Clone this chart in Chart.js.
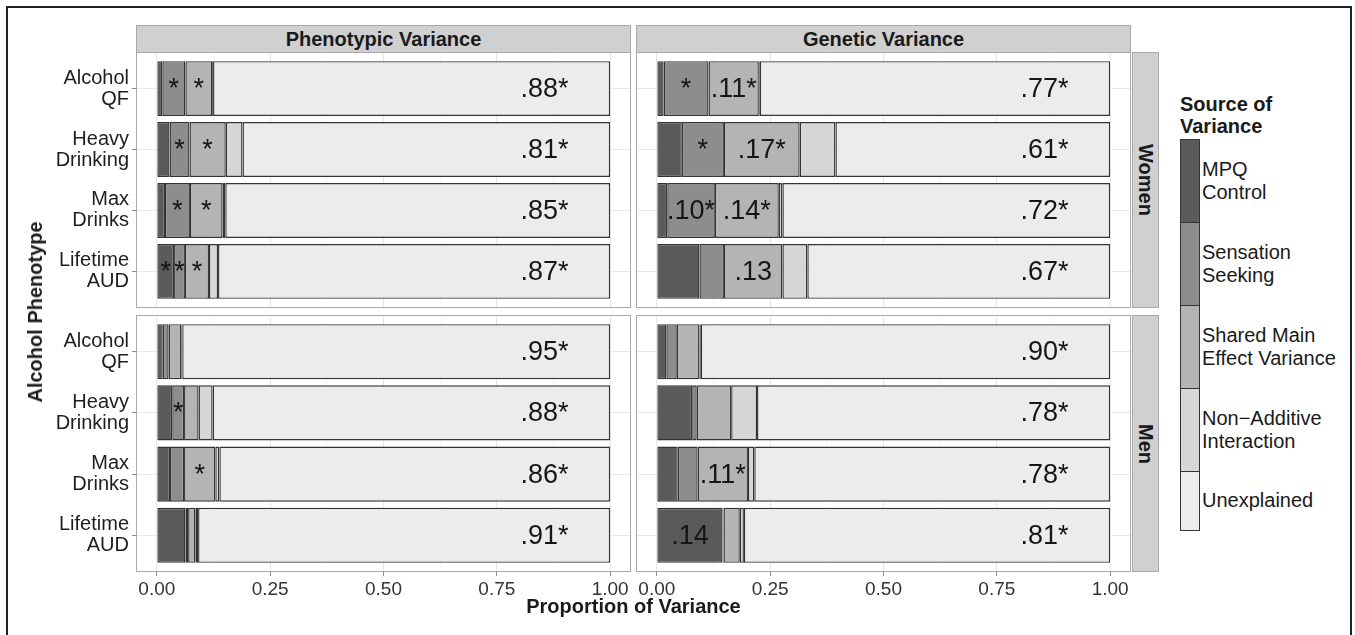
<!DOCTYPE html>
<html><head><meta charset="utf-8">
<script src="https://cdn.jsdelivr.net/npm/chart.js@4.4.1/dist/chart.umd.min.js"></script>
<style>
html,body{margin:0;padding:0;background:#fff;}
body{width:1355px;height:635px;position:relative;overflow:hidden;font-family:'Liberation Sans',Arial,sans-serif;color:#1a1a1a;}
canvas{position:absolute;}
.frame{position:absolute;left:6px;top:6px;width:1346px;height:700px;border:2.5px solid #222;box-sizing:border-box;}
.strip{position:absolute;background:#d0d0d0;border:1px solid #a8a8a8;box-sizing:border-box;font-weight:bold;font-size:20px;display:flex;align-items:center;justify-content:center;color:#1a1a1a;}
.vstrip{writing-mode:vertical-rl;}
.title{position:absolute;font-weight:bold;font-size:20px;white-space:nowrap;}
.lg-key{position:absolute;left:1180px;width:20px;border:1.5px solid #333;box-sizing:border-box;}
.lg-lab{position:absolute;left:1202px;font-size:20px;line-height:23px;white-space:nowrap;display:flex;align-items:center;}
</style></head><body>
<div class="frame"></div>

<canvas id="c_pw" width="601" height="256" style="left:30px;top:52px;width:601px;height:256px"></canvas>
<canvas id="c_gw" width="495" height="256" style="left:636px;top:52px;width:495px;height:256px"></canvas>
<canvas id="c_pm" width="601" height="290" style="left:30px;top:315px;width:601px;height:290px"></canvas>
<canvas id="c_gm" width="495" height="290" style="left:636px;top:315px;width:495px;height:290px"></canvas>

<div class="strip" style="left:136px;top:25px;width:495px;height:28px">Phenotypic Variance</div>
<div class="strip" style="left:636px;top:25px;width:495px;height:28px">Genetic Variance</div>
<div class="strip vstrip" style="left:1132px;top:52px;width:27px;height:256px">Women</div>
<div class="strip vstrip" style="left:1132px;top:315px;width:27px;height:257px">Men</div>

<div class="title" style="left:136px;width:995px;top:594px;line-height:24px;text-align:center">Proportion of Variance</div>
<div class="title" style="left:35px;top:312px;transform:translate(-50%,-50%) rotate(-90deg);line-height:24px">Alcohol Phenotype</div>

<div id="legend"></div>

<script>
// ---------- data ----------
const categories = [["Alcohol","QF"],["Heavy","Drinking"],["Max","Drinks"],["Lifetime","AUD"]];
const sources = [["MPQ","Control"],["Sensation","Seeking"],["Shared Main","Effect Variance"],["Non\u2212Additive","Interaction"],["Unexplained"]];
const sourceColors = ['#5a5a5a','#8d8d8d','#b4b4b4','#d6d6d6','#ececec'];

const xTickValues = [0, 0.25, 0.5, 0.75, 1];
const xTickLabels = ["0.00","0.25","0.50","0.75","1.00"];
const xMinorValues = [0.125, 0.375, 0.625, 0.875];

// rows: MPQ, Sensation Seeking, Shared, Non-Additive, Unexplained ; columns: categories
const phenWomen = [
  [0.012, 0.028, 0.018, 0.038],
  [0.051, 0.044, 0.055, 0.024],
  [0.059, 0.080, 0.072, 0.053],
  [0.002, 0.037, 0.006, 0.020],
  [0.876, 0.811, 0.849, 0.865]
];
const genWomen = [
  [0.015, 0.055, 0.023, 0.094],
  [0.099, 0.093, 0.105, 0.054],
  [0.111, 0.167, 0.141, 0.129],
  [0.002, 0.079, 0.008, 0.055],
  [0.773, 0.606, 0.723, 0.668]
];
const phenMen = [
  [0.013, 0.034, 0.029, 0.063],
  [0.013, 0.026, 0.031, 0.006],
  [0.028, 0.032, 0.069, 0.016],
  [0.002, 0.031, 0.009, 0.006],
  [0.944, 0.877, 0.862, 0.909]
];
const genMen = [
  [0.021, 0.078, 0.046, 0.145],
  [0.023, 0.010, 0.044, 0.002],
  [0.050, 0.076, 0.111, 0.036],
  [0.003, 0.057, 0.014, 0.009],
  [0.903, 0.779, 0.785, 0.808]
];

const phenWomenLabels = [
  ["","","","*"],
  ["*","*","*","*"],
  ["*","*","*","*"],
  ["","","",""],
  [".88*",".81*",".85*",".87*"]
];
const genWomenLabels = [
  ["","","",""],
  ["*","*",".10*",""],
  [".11*",".17*",".14*",".13"],
  ["","","",""],
  [".77*",".61*",".72*",".67*"]
];
const phenMenLabels = [
  ["","","",""],
  ["","*","",""],
  ["","","*",""],
  ["","","",""],
  [".95*",".88*",".86*",".91*"]
];
const genMenLabels = [
  ["","","",".14"],
  ["","","",""],
  ["","",".11*",""],
  ["","","",""],
  [".90*",".78*",".78*",".81*"]
];
const unexplainedLabelX = 0.855;

// ---------- plugins ----------
const segLabelPlugin = {
  id: 'segLabels',
  afterDatasetsDraw(chart) {
    const ctx = chart.ctx, xs = chart.scales.x;
    ctx.save();
    ctx.font = '27px "Liberation Sans", Arial, sans-serif';
    ctx.fillStyle = '#161616';
    ctx.textAlign = 'center';
    ctx.textBaseline = 'middle';
    chart.data.datasets.forEach((ds, di) => {
      const meta = chart.getDatasetMeta(di);
      meta.data.forEach((el, i) => {
        const t = ds.segLabels[i];
        if (!t) return;
        const x = ds.labelAt != null ? xs.getPixelForValue(ds.labelAt) : (el.x + el.base) / 2;
        ctx.fillText(t, x, el.y + 1);
      });
    });
    ctx.restore();
  }
};
const panelBorderPlugin = {
  id: 'panelBorder',
  afterDraw(chart) {
    const a = chart.chartArea, ctx = chart.ctx;
    ctx.save();
    ctx.strokeStyle = '#a9a9a9';
    ctx.lineWidth = 1;
    ctx.strokeRect(a.left + 0.5, a.top + 0.5, a.right - a.left - 1, a.bottom - a.top - 1);
    ctx.restore();
  }
};

function makePanel(id, series, labels, showY, showX) {
  const datasets = series.map((vals, k) => ({
    label: sources[k].join(' '),
    data: vals.map((v, i) => ({ x: v, y: i })),
    backgroundColor: sourceColors[k],
    borderColor: '#333333',
    borderWidth: 1.4,
    borderSkipped: false,
    barPercentage: 0.9,
    categoryPercentage: 1,
    segLabels: labels[k],
    labelAt: k === 4 ? unexplainedLabelX : null
  }));
  const xTicksAll = xTickValues.concat(xMinorValues).sort((a, b) => a - b);
  const isMajor = v => xTickValues.indexOf(v) >= 0;
  new Chart(document.getElementById(id), {
    type: 'bar',
    data: { datasets },
    options: {
      indexAxis: 'y',
      responsive: false,
      animation: false,
      events: [],
      layout: { padding: 0 },
      plugins: { legend: { display: false }, tooltip: { enabled: false } },
      scales: {
        x: {
          type: 'linear', stacked: true, min: -0.046, max: 1.046, offset: false,
          border: { display: false },
          afterBuildTicks: s => { s.ticks = xTicksAll.map(v => ({ value: v })); },
          afterFit: s => { s.height = showX ? 33 : 0; s.paddingLeft = 0; s.paddingRight = 0; },
          grid: {
            offset: false,
            color: c => (c.tick && isMajor(c.tick.value)) ? '#e6e6e6' : '#f3f3f3',
            lineWidth: c => (c.tick && isMajor(c.tick.value)) ? 1 : 0.7,
            drawTicks: showX, tickLength: 4,
            tickColor: c => (c.tick && isMajor(c.tick.value)) ? '#8a8a8a' : 'rgba(0,0,0,0)'
          },
          ticks: {
            display: showX, autoSkip: false, maxRotation: 0, padding: 2,
            color: '#333',
            font: { family: '"Liberation Sans", Arial, sans-serif', size: 19 },
            callback: v => { const j = xTickValues.indexOf(v); return j >= 0 ? xTickLabels[j] : ''; }
          }
        },
        y: {
          type: 'linear', stacked: true, reverse: true, min: -0.6, max: 3.6, offset: false,
          border: { display: false },
          afterBuildTicks: s => { s.ticks = categories.map((c, i) => ({ value: i })); },
          afterFit: s => { s.width = showY ? 106 : 0; s.paddingTop = 0; s.paddingBottom = 0; },
          grid: { offset: false, color: '#e8e8e8', lineWidth: 1, drawTicks: showY, tickLength: 4, tickColor: '#8a8a8a' },
          ticks: {
            display: showY, autoSkip: false, padding: 3,
            color: '#1e1e1e',
            font: { family: '"Liberation Sans", Arial, sans-serif', size: 20, lineHeight: 1.05 },
            callback: v => categories[v]
          }
        }
      }
    },
    plugins: [segLabelPlugin, panelBorderPlugin]
  });
}

makePanel('c_pw', phenWomen, phenWomenLabels, true, false);
makePanel('c_gw', genWomen, genWomenLabels, false, false);
makePanel('c_pm', phenMen, phenMenLabels, true, true);
makePanel('c_gm', genMen, genMenLabels, false, true);

// ---------- legend ----------
(function () {
  const lg = document.getElementById('legend');
  const t = document.createElement('div');
  t.className = 'title';
  t.style.cssText = 'left:1180px;top:93px;line-height:22px;';
  t.innerHTML = 'Source of<br>Variance';
  lg.appendChild(t);
  let y = 139;
  sources.forEach((s, k) => {
    const h = s.length > 1 ? 83 : 58;
    const key = document.createElement('div');
    key.className = 'lg-key';
    key.style.top = y + 'px';
    key.style.height = (h + 1.5) + 'px';
    key.style.background = sourceColors[k];
    lg.appendChild(key);
    const lab = document.createElement('div');
    lab.className = 'lg-lab';
    lab.style.top = y + 'px';
    lab.style.height = h + 'px';
    lab.innerHTML = s.join('<br>');
    lg.appendChild(lab);
    y += h;
  });
})();
</script>
</body></html>
